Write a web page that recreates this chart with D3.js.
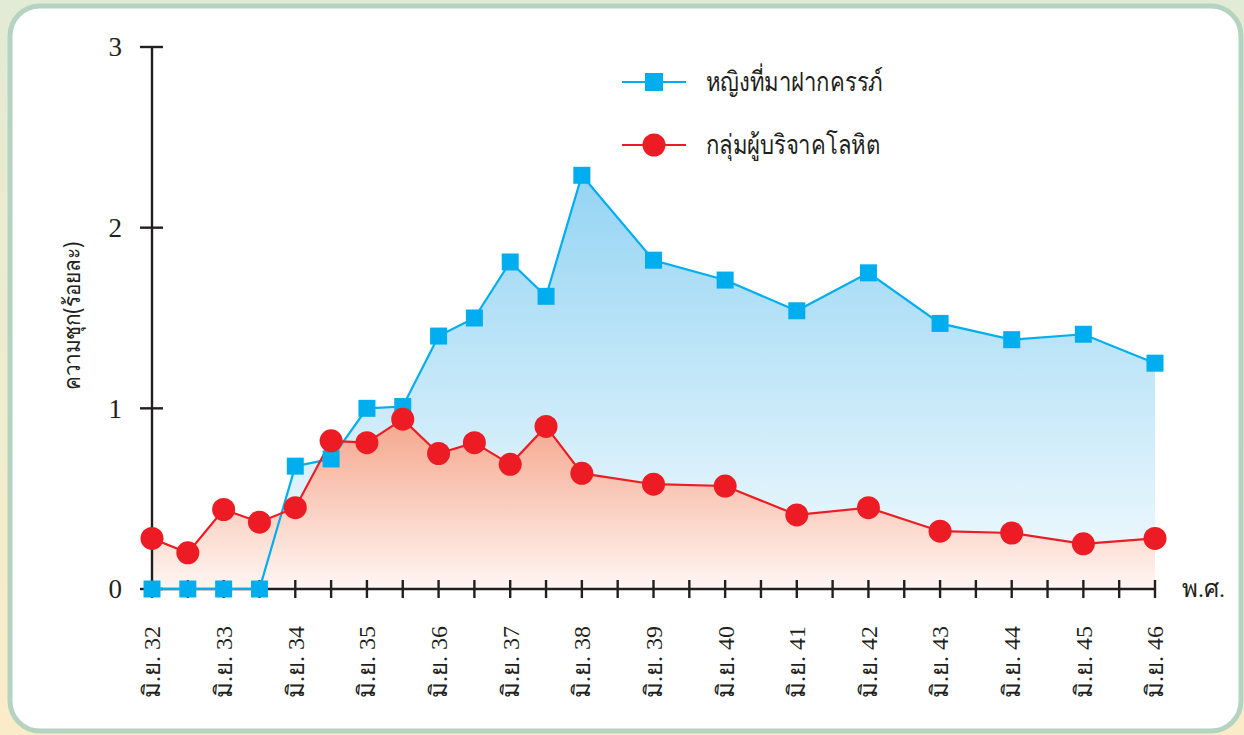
<!DOCTYPE html>
<html><head><meta charset="utf-8">
<script src="https://cdn.jsdelivr.net/npm/d3@7"></script>
<style>
html,body{margin:0;padding:0;}
body{width:1244px;height:735px;overflow:hidden;}
</style></head>
<body>
<svg id="chart" width="1244" height="735"></svg>
<script>
const years = [32,32.5,33,33.5,34,34.5,35,35.5,36,36.5,37,37.5,38,39,40,41,42,43,44,45,46];
const pregnant = [0,0,0,0,0.68,0.72,1.00,1.01,1.40,1.50,1.81,1.62,2.29,1.82,1.71,1.54,1.75,1.47,1.38,1.41,1.25];
const donors = [0.28,0.20,0.44,0.37,0.45,0.82,0.81,0.94,0.75,0.81,0.69,0.90,0.64,0.58,0.57,0.41,0.45,0.32,0.31,0.25,0.28];
const tickYears = d3.range(32, 46.01, 0.5);
const labelYears = d3.range(32, 47, 1);
const yTicks = [0,1,2,3];
const seriesNames = ["หญิงที่มาฝากครรภ์", "กลุ่มผู้บริจาคโลหิต"];
const yTitle = "ความชุก(ร้อยละ)";
const xUnit = "พ.ศ.";

const svg = d3.select("#chart");
const defs = svg.append("defs");
const bg = defs.append("linearGradient").attr("id","bgGrad").attr("x1",0).attr("y1",0).attr("x2",0).attr("y2",1);
bg.append("stop").attr("offset","0%").attr("stop-color","#e2ebd5");
bg.append("stop").attr("offset","100%").attr("stop-color","#fbecc9");
const gb = defs.append("linearGradient").attr("id","blueGrad").attr("gradientUnits","userSpaceOnUse")
  .attr("x1",0).attr("x2",0);
const gr = defs.append("linearGradient").attr("id","redGrad").attr("gradientUnits","userSpaceOnUse")
  .attr("x1",0).attr("x2",0);

svg.append("rect").attr("width",1244).attr("height",735).attr("fill","url(#bgGrad)");
svg.append("rect").attr("x",10).attr("y",6).attr("width",1231).attr("height",725)
  .attr("rx",30).attr("ry",30).attr("fill","#ffffff").attr("stroke","#b5d3c1").attr("stroke-width",5);

const x = d3.scaleLinear().domain([32,46]).range([152,1155]);
const y = d3.scaleLinear().domain([0,3]).range([589,47]);

gb.attr("y1", y(d3.max(pregnant))).attr("y2", y(0));
gb.append("stop").attr("offset","0%").attr("stop-color","#94d4f3");
gb.append("stop").attr("offset","100%").attr("stop-color","#f4fbfe");
gr.attr("y1", y(d3.max(donors))).attr("y2", y(0));
gr.append("stop").attr("offset","0%").attr("stop-color","#f5a68c");
gr.append("stop").attr("offset","100%").attr("stop-color","#fff6f3");

const bData = years.map((yr,i)=>({x:yr,v:pregnant[i]}));
const rData = years.map((yr,i)=>({x:yr,v:donors[i]}));

const area = d3.area().x(d=>x(d.x)).y0(y(0)).y1(d=>y(d.v));
const line = d3.line().x(d=>x(d.x)).y(d=>y(d.v));

svg.append("path").datum(bData).attr("d",area).attr("fill","url(#blueGrad)");
svg.append("path").datum(rData).attr("d",area).attr("fill","url(#redGrad)");

// axes
const axG = svg.append("g").attr("stroke","#231f20").attr("stroke-width",2.4);
axG.append("line").attr("x1",x(32)).attr("x2",x(46)).attr("y1",y(0)).attr("y2",y(0));
axG.append("line").attr("x1",x(32)).attr("x2",x(32)).attr("y1",y(3)).attr("y2",y(0));
axG.selectAll(".xt").data(tickYears).enter().append("line")
  .attr("x1",d=>x(d)).attr("x2",d=>x(d)).attr("y1",y(0)-9).attr("y2",y(0)+9);
axG.selectAll(".yt").data(yTicks).enter().append("line")
  .attr("x1",x(32)-12).attr("x2",x(32)+11).attr("y1",d=>y(d)).attr("y2",d=>y(d));

svg.selectAll(".ylab").data(yTicks).enter().append("text")
  .attr("x",122).attr("y",d=>y(d)).attr("dy","0.35em").attr("text-anchor","end")
  .attr("font-family","'Liberation Serif','DejaVu Serif',serif").attr("font-size",27)
  .attr("fill","#231f20").text(d=>d);

svg.selectAll(".xlab").data(labelYears).enter().append("text")
  .attr("transform",d=>`translate(${x(d)},626) rotate(-90)`)
  .attr("text-anchor","end").attr("dy","0.35em")
  .attr("font-family","'Liberation Serif','DejaVu Serif',serif").attr("font-size",24)
  .attr("fill","#231f20").text(d=>"มิ.ย. "+d);

svg.append("text").attr("x",1182).attr("y",y(0)).attr("dy","0.35em")
  .attr("font-family","'Liberation Serif','DejaVu Serif',serif").attr("font-size",24)
  .attr("fill","#231f20").text(xUnit);

svg.append("text").attr("transform","translate(72,316) rotate(-90) scale(0.9,1)")
  .attr("text-anchor","middle").attr("dy","0.35em")
  .attr("font-family","'Noto Sans','DejaVu Sans',sans-serif").attr("font-size",23)
  .attr("fill","#231f20").text(yTitle);

// lines
svg.append("path").datum(bData).attr("d",line).attr("fill","none").attr("stroke","#00aeef").attr("stroke-width",2.2);
svg.append("path").datum(rData).attr("d",line).attr("fill","none").attr("stroke","#ed1c24").attr("stroke-width",2.2);

const sq = 17;
svg.selectAll(".bm").data(bData).enter().append("rect")
  .attr("x",d=>x(d.x)-sq/2).attr("y",d=>y(d.v)-sq/2).attr("width",sq).attr("height",sq)
  .attr("fill","#00aeef");
svg.selectAll(".rm").data(rData).enter().append("circle")
  .attr("cx",d=>x(d.x)).attr("cy",d=>y(d.v)).attr("r",11.5).attr("fill","#ed1c24");

// legend
const leg = [{c:"#00aeef",t:seriesNames[0],y:82,shape:"sq"},{c:"#ed1c24",t:seriesNames[1],y:145,shape:"ci"}];
leg.forEach(l=>{
  svg.append("line").attr("x1",622).attr("x2",686).attr("y1",l.y).attr("y2",l.y).attr("stroke",l.c).attr("stroke-width",2.2);
  if(l.shape==="sq") svg.append("rect").attr("x",654-9).attr("y",l.y-9).attr("width",18).attr("height",18).attr("fill",l.c);
  else svg.append("circle").attr("cx",654).attr("cy",l.y).attr("r",11.5).attr("fill",l.c);
  svg.append("text").attr("transform",`translate(706,${l.y}) scale(0.82,1)`).attr("dy","0.35em")
    .attr("font-family","'Noto Sans','DejaVu Sans',sans-serif").attr("font-size",27)
    .attr("fill","#231f20").text(l.t);
});
</script>
</body></html>
